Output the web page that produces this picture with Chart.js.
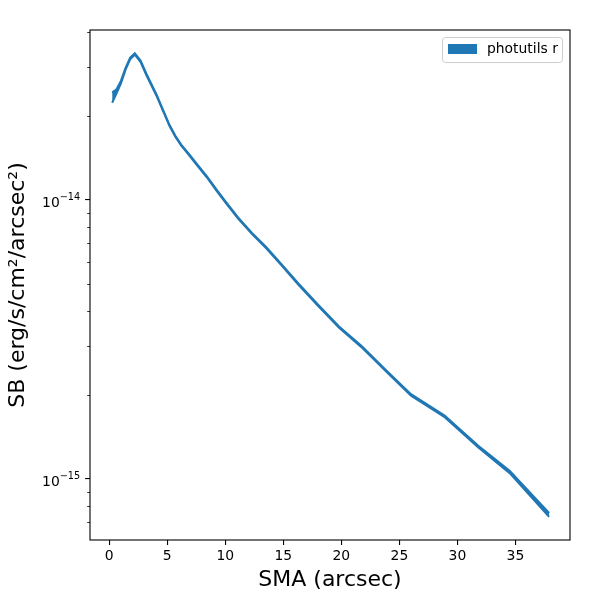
<!DOCTYPE html>
<html><head><meta charset="utf-8">
<script src="https://cdn.jsdelivr.net/npm/chart.js@4.4.0/dist/chart.umd.min.js"></script>
<style>html,body{margin:0;padding:0;background:#fff}</style>
</head><body>
<canvas id="c" width="600" height="600"></canvas>
<script>
// ---- data ----
const sma = [0.25, 0.6, 1.0, 1.4, 1.8, 2.2, 2.7, 3.2, 3.6, 4.1, 4.6, 5.2, 5.7, 6.2, 6.9, 7.6, 8.4, 9.2, 10.1, 11.1, 12.3, 13.5, 14.8, 16.3, 18.0, 19.8, 21.7, 23.9, 26.0, 28.9, 31.8, 34.5, 37.9];
const sb = [2.33e-14, 2.44e-14, 2.64e-14, 2.95e-14, 3.215e-14, 3.336e-14, 3.14e-14, 2.817e-14, 2.605e-14, 2.36e-14, 2.109e-14, 1.845e-14, 1.69e-14, 1.572e-14, 1.449e-14, 1.331e-14, 1.212e-14, 1.09e-14, 9.73e-15, 8.61e-15, 7.58e-15, 6.76e-15, 5.88e-15, 4.99e-15, 4.19e-15, 3.50e-15, 2.99e-15, 2.43e-15, 2.00e-15, 1.676e-15, 1.305e-15, 1.059e-15, 7.43e-16];
const sbErr = [1.0e-15, 0.45e-15, 0.3e-15, 0.25e-15, 0.22e-15, 0.2e-15, 0.2e-15, 0.18e-15, 0.16e-15, 0.14e-15, 0.12e-15, 0.1e-15, 0.09e-15, 0.08e-15, 0.07e-15, 0.065e-15, 0.06e-15, 0.055e-15, 0.05e-15, 0.045e-15, 0.04e-15, 0.035e-15, 0.03e-15, 0.026e-15, 0.022e-15, 0.019e-15, 0.017e-15, 0.014e-15, 0.012e-15, 0.011e-15, 0.01e-15, 0.01e-15, 0.012e-15];
const xTicks = [0, 5, 10, 15, 20, 25, 30, 35];
const yMajorTicks = [1e-15, 1e-14];
const yMinorTicks = [7e-16, 8e-16, 9e-16, 2e-15, 3e-15, 4e-15, 5e-15, 6e-15, 7e-15, 8e-15, 9e-15, 2e-14, 3e-14, 4e-14];
const seriesLabel = 'photutils r';
const xTitle = 'SMA (arcsec)';
const yTitle = 'SB (erg/s/cm\u00B2/arcsec\u00B2)';
const xRange = [-1.66, 39.7];
const yRange = [6.04e-16, 4.066e-14];

const color = '#1f77b4';
const FONT = "'DejaVu Sans', sans-serif";
Chart.defaults.font.family = FONT;
Chart.defaults.color = '#000';

const upper = sma.map((x, i) => ({x: x, y: sb[i] + sbErr[i]}));
const lower = sma.map((x, i) => ({x: x, y: sb[i] - sbErr[i]}));

const decor = {
  id: 'decor',
  afterDraw(chart) {
    const ctx = chart.ctx, a = chart.chartArea, ys = chart.scales.y;
    ctx.save();
    // minor ticks
    ctx.strokeStyle = '#000';
    ctx.lineWidth = 0.8;
    yMinorTicks.forEach(v => {
      const p = Math.round(ys.getPixelForValue(v)) + 0.5;
      ctx.beginPath(); ctx.moveTo(a.left, p); ctx.lineTo(a.left - 2.8, p); ctx.stroke();
    });
    // y tick labels 10^n
    ctx.fillStyle = '#000';
    ctx.textBaseline = 'alphabetic';
    ctx.textAlign = 'left';
    yMajorTicks.forEach(v => {
      const p = ys.getPixelForValue(v);
      const exp = '\u2212' + String(Math.abs(Math.round(Math.log10(v))));
      ctx.font = '9.7px ' + FONT;
      const sw = ctx.measureText(exp).width;
      ctx.font = '13.9px ' + FONT;
      const bw = ctx.measureText('10').width;
      const right = a.left - 9.8;
      ctx.fillText('10', right - sw - bw, p + 6.7);
      ctx.font = '9.7px ' + FONT;
      ctx.fillText(exp, right - sw, p + 0.5);
    });
    // frame
    ctx.lineWidth = 1.1;
    ctx.strokeRect(a.left, a.top, a.right - a.left, a.bottom - a.top);
    // titles
    ctx.fillStyle = '#000';
    ctx.font = '22px ' + FONT;
    ctx.textAlign = 'center';
    ctx.textBaseline = 'middle';
    ctx.fillText(xTitle, (a.left + a.right) / 2, 580);
    ctx.save();
    ctx.translate(18, (a.top + a.bottom) / 2);
    ctx.rotate(-Math.PI / 2);
    ctx.fillText(yTitle, 0, 0);
    ctx.restore();
    // legend
    ctx.beginPath();
    if (ctx.roundRect) ctx.roundRect(442.5, 37.5, 120, 25, 3); else ctx.rect(442.5, 37.5, 120, 25);
    ctx.fillStyle = 'rgba(255,255,255,0.8)';
    ctx.fill();
    ctx.strokeStyle = '#cccccc';
    ctx.lineWidth = 1;
    ctx.stroke();
    ctx.fillStyle = color;
    ctx.fillRect(448, 44, 29, 10);
    ctx.fillStyle = '#000';
    ctx.font = '13.9px ' + FONT;
    ctx.textAlign = 'left';
    ctx.fillText(seriesLabel, 487, 49.5);
    ctx.restore();
  }
};

new Chart(document.getElementById('c'), {
  type: 'line',
  data: {
    datasets: [
      {label: seriesLabel, data: upper, borderColor: color, borderWidth: 2, pointRadius: 0, fill: false, tension: 0},
      {label: seriesLabel + ' lower', data: lower, borderColor: color, borderWidth: 2, pointRadius: 0, fill: '-1', backgroundColor: color, tension: 0}
    ]
  },
  options: {
    responsive: false,
    animation: false,
    devicePixelRatio: 1,
    layout: {padding: {left: 0, top: 30, right: 30, bottom: 0}},
    plugins: {legend: {display: false}, tooltip: {enabled: false}},
    events: [],
    scales: {
      x: {
        type: 'linear', min: xRange[0], max: xRange[1],
        afterBuildTicks: s => { s.ticks = xTicks.map(v => ({value: v})); },
        afterFit: s => { s.height = 60; },
        grid: {drawOnChartArea: false, drawTicks: true, tickLength: 4.9, color: '#000', lineWidth: 1.1},
        border: {display: false},
        ticks: {font: {size: 13.9}, color: '#000', padding: 3, maxRotation: 0, autoSkip: false, callback: v => String(v)}
      },
      y: {
        type: 'logarithmic', min: yRange[0], max: yRange[1],
        afterBuildTicks: s => { s.ticks = yMajorTicks.map(v => ({value: v, major: true})); },
        afterFit: s => { s.width = 90; },
        grid: {drawOnChartArea: false, drawTicks: true, tickLength: 4.9, color: '#000', lineWidth: 1.1},
        border: {display: false},
        ticks: {font: {size: 13.9}, color: '#000', padding: 4, autoSkip: false, callback: () => ''}
      }
    }
  },
  plugins: [decor]
});
</script>
</body></html>
